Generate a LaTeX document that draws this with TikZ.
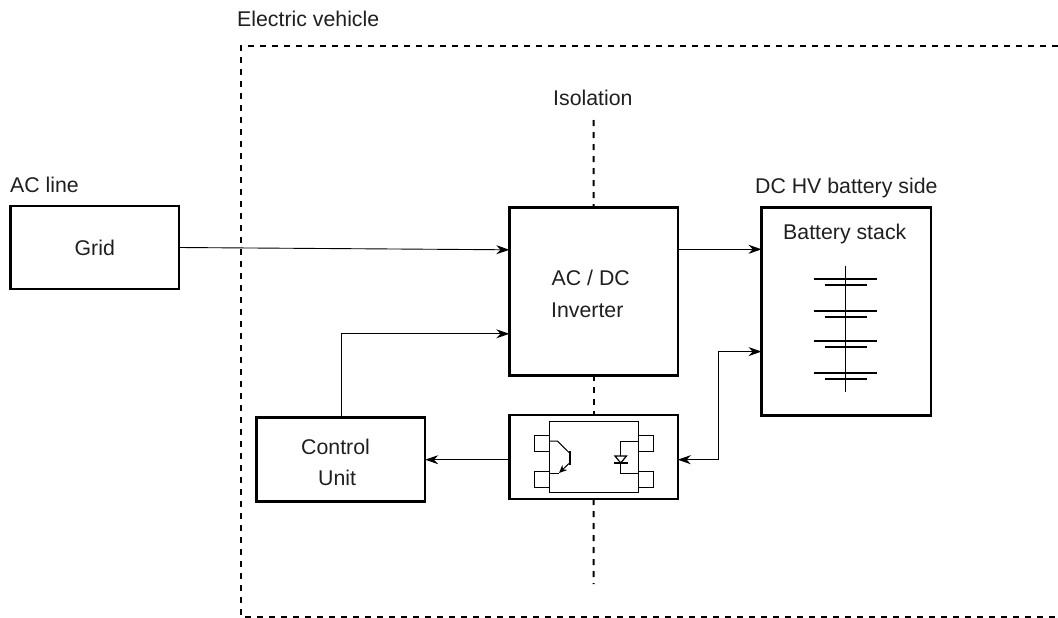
\documentclass[tikz,border=0pt]{standalone}
\usepackage{fontspec}
\setmainfont{Liberation Sans}
\usepackage{tikz}
\usetikzlibrary{arrows.meta}

\begin{document}
\begin{tikzpicture}[x=1pt,y=-1pt,font=\fontsize{21.3}{25}\selectfont,text=black!88]
        \tikzstyle{blockbox}=[draw,line width=2.5pt,minimum width=168.5pt,anchor=north west,inner sep=0pt,outer sep=0pt,align=center]
        \tikzstyle{textlabel}=[anchor=base west,inner sep=0pt]
        \tikzstyle{wire}=[line width=0.9pt,-{Stealth[length=13pt,width=9pt]}]
        \tikzstyle{fence}=[line width=2pt,dash pattern=on 6pt off 6pt]
        \tikzstyle{thinpart}=[line width=1pt]
        \useasboundingbox (0,0) rectangle (1058,618);
        \node[textlabel] (evlabel) at (237,27) {Electric vehicle};
        \node[textlabel] (isolabel) at (553,106) {Isolation};
        \node[textlabel] (aclabel) at (10,192) {AC line};
        \node[textlabel] (dclabel) at (755,193) {DC HV battery side};
        \node[blockbox,minimum height=83pt,text depth=-1pt] (grid) at (10.5,206) {Grid};
        \node[blockbox,minimum height=168pt] (inverter) at (509.3,207.3) {};
        \node[textlabel] (acdc) at (551.5,285) {AC / DC};
        \node[textlabel] (invlabel) at (551,317) {Inverter};
        \node[blockbox,minimum height=208pt,minimum width=169.5pt] (battery) at (761.5,207.3) {};
        \node[textlabel] (stacklabel) at (783,239) {Battery stack};
        \node[blockbox,minimum height=84pt] (control) at (256.7,417.7) {};
        \node[textlabel] (ctrl1) at (301,454) {Control};
        \node[textlabel] (ctrl2) at (318,485) {Unit};
        \node[blockbox,minimum height=84pt] (opto) at (509.3,415) {};
        % outer border and isolation line
        \coordinate (evtop) at (1058,46);
        \coordinate (evbottom) at (1058,617);
        \coordinate (isotop) at (593.5,120);
        \coordinate (isobottom) at (593.5,584);
        \draw[fence] (evtop) -- (241,46) -- (241,617) -- (evbottom);
        \draw[fence] (isotop) -- (inverter.north);
        \draw[fence] (inverter.south) -- (opto.north);
        \draw[fence] (opto.south) -- (isobottom);
        % wires
        \draw[wire] (grid.east) -- ([yshift=-42.5pt]inverter.north west);
        \draw[wire] ([yshift=-42pt]inverter.north east) -- ([yshift=-42pt]battery.north west);
        \draw[wire] ([xshift=85pt]control.north west) |- ([yshift=-126.5pt]inverter.north west);
        \draw[wire] (opto.west |- control.east) -- (control.east);
        \draw[wire,{Stealth[length=13pt,width=9pt]}-{Stealth[length=13pt,width=9pt]}] (opto.east |- control.east) -- ++(41,0) |- ([yshift=-144.3pt]battery.north west);
        % battery cells
        \draw[line width=0.9pt] (845.7,266) -- (845.7,392);
        \foreach \y in {279,311,341,373}
        {
            \draw[line width=2.2pt] (814,\y) -- (877,\y);
            \draw[line width=2.2pt] (824.5,\y+6) -- (866.5,\y+6);
        }
        % optocoupler
        \draw[thinpart] (549.3,421) rectangle (638.3,492.5);
        \foreach \y in {435.7,471.7}
        {
            \draw[thinpart] (549.3,\y) -- (534,\y) -- (534,\y+15.3) -- (549.3,\y+15.3);
            \draw[thinpart] (638.3,\y) -- (653.7,\y) -- (653.7,\y+15.3) -- (638.3,\y+15.3);
        }
        \draw[thinpart] (549.3,441) -- (557.3,441) -- (569.5,453);
        \draw[line width=2.2pt] (570,451) -- (570,465);
        \draw[thinpart,-{Stealth[length=8pt,width=7pt]}] (569.5,463) -- (559,473);
        \draw[thinpart] (559,473) -- (549.3,473);
        \draw[thinpart] (638.3,441) -- (620.7,441) -- (620.7,473) -- (638.3,473);
        \draw[line width=1.2pt,fill=white] (615,456) -- (626.5,456) -- (620.7,463) -- cycle;
        \draw[line width=1.2pt] (613.5,463) -- (628,463);
    \end{tikzpicture}
\end{document}
